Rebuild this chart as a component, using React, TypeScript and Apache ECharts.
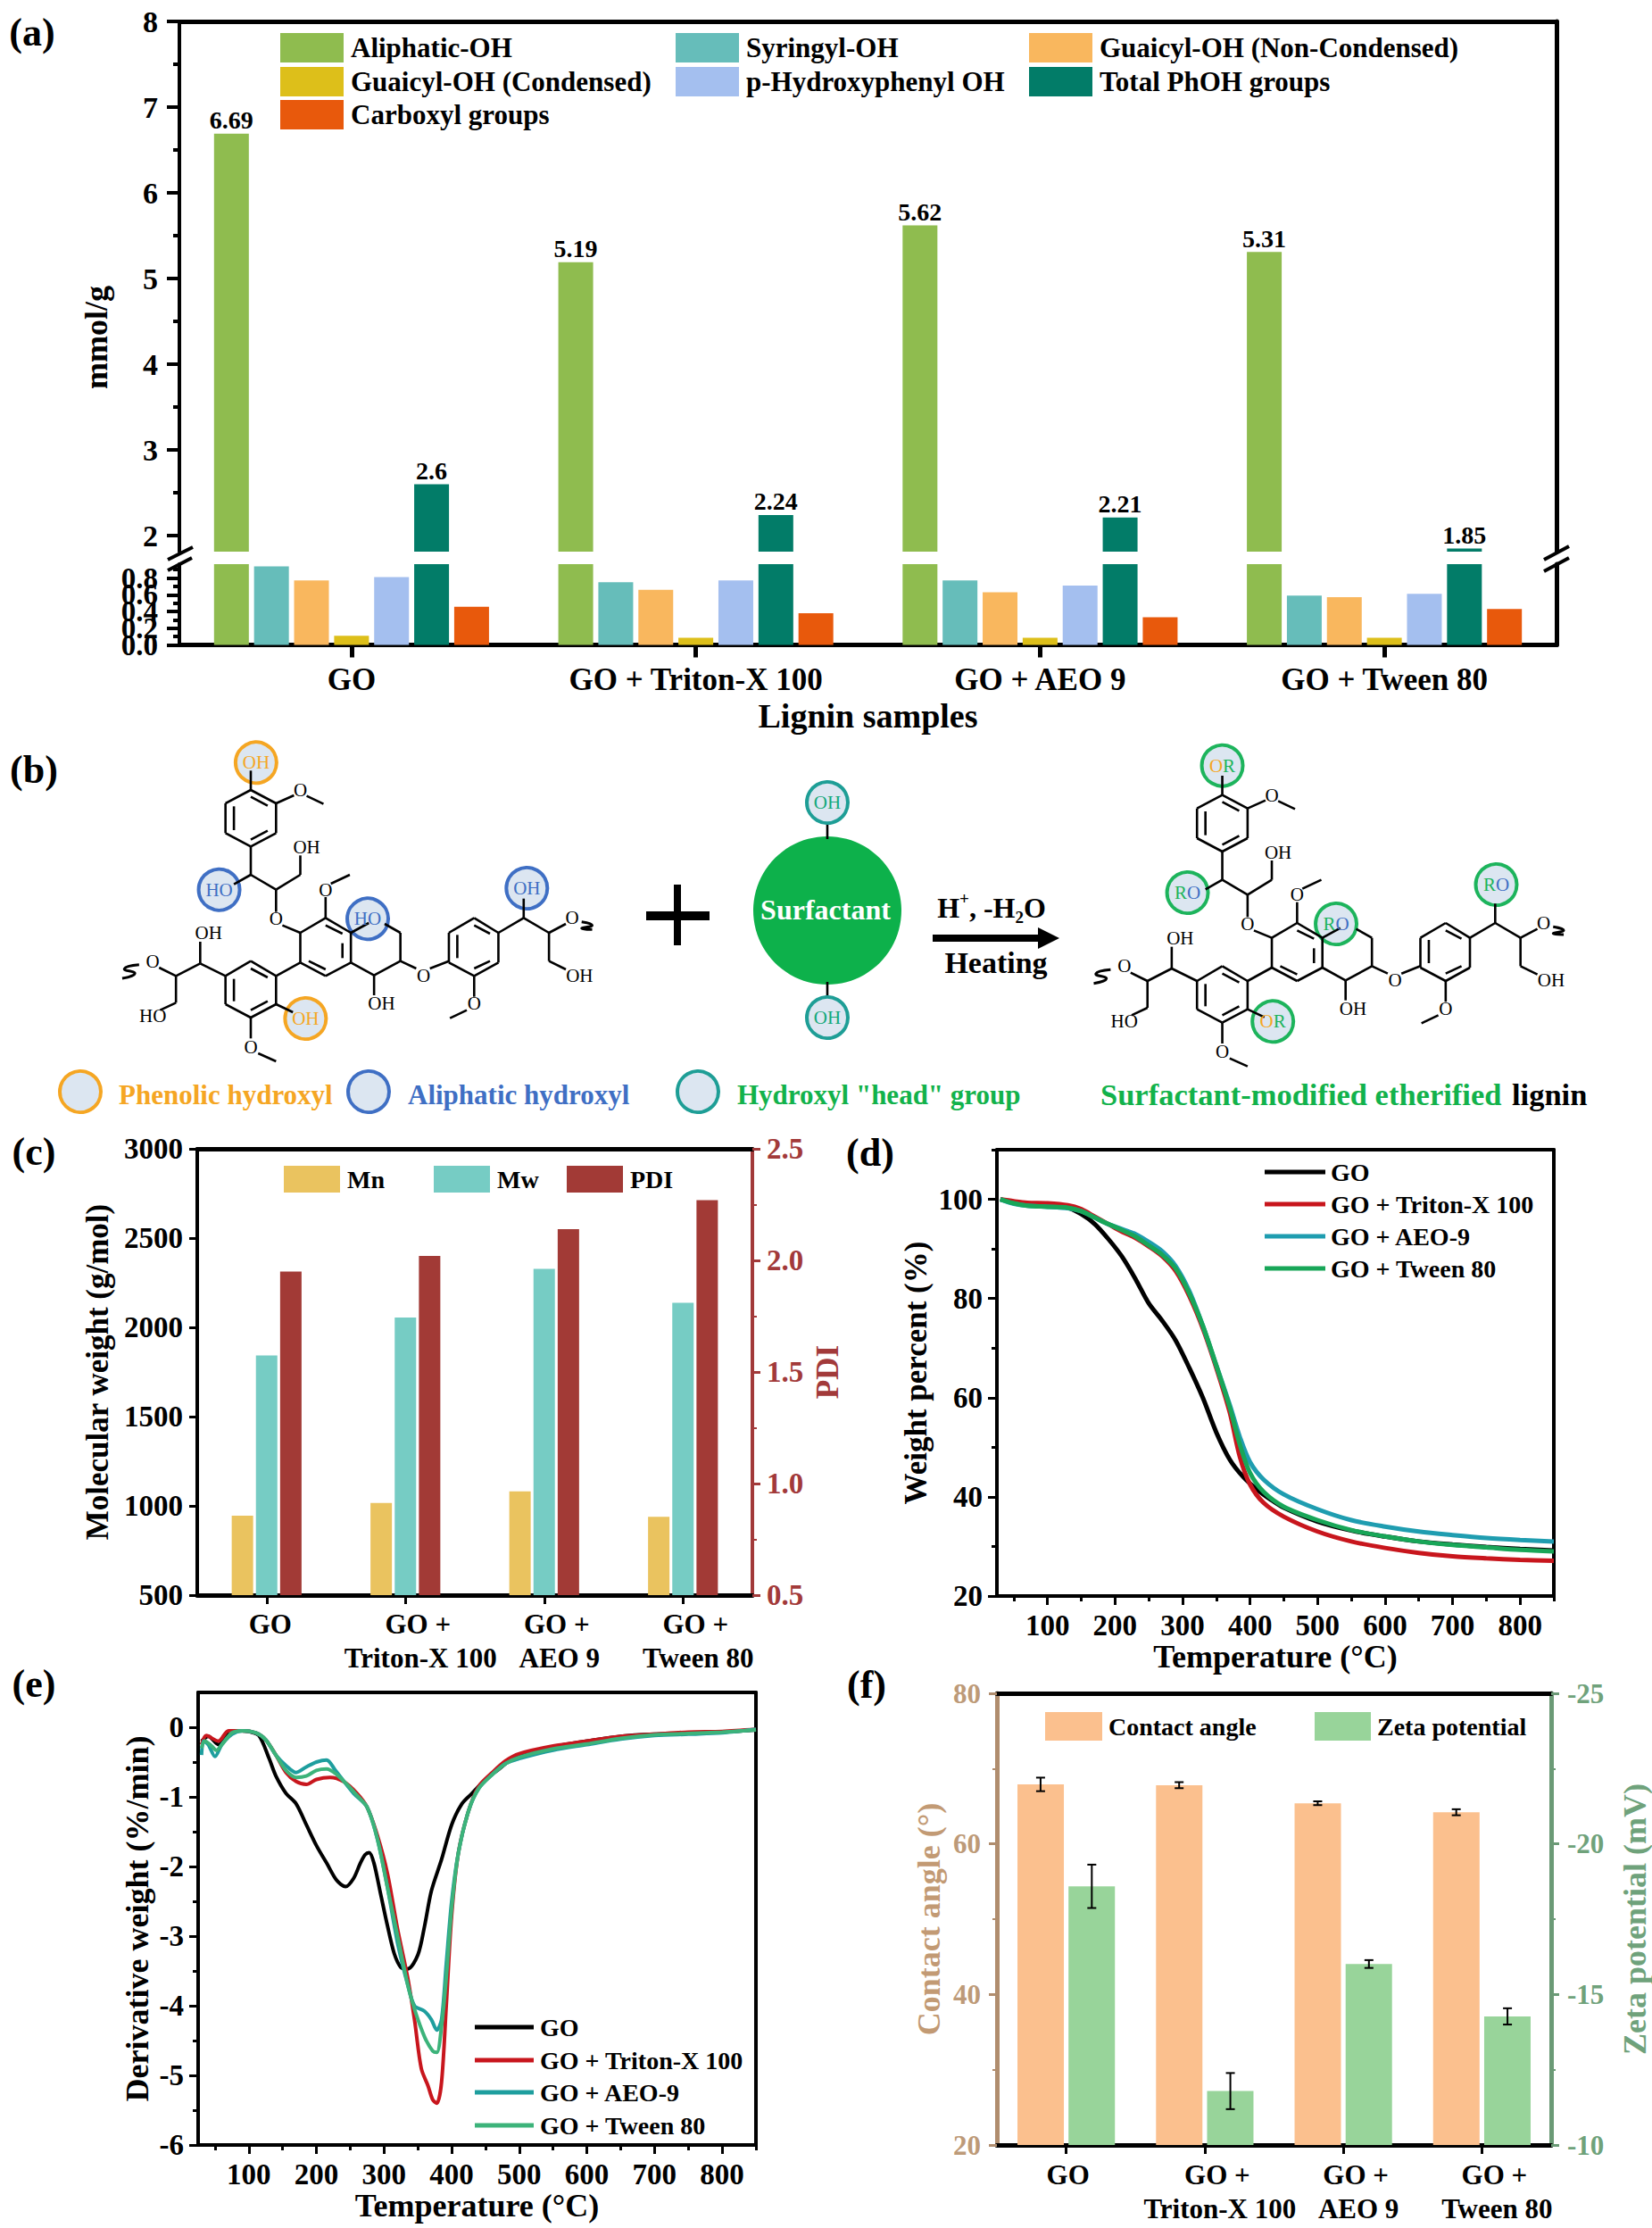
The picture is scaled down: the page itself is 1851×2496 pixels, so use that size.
import React, { useEffect, useRef } from 'react';
import * as echarts from 'echarts';

const FONT = '"Liberation Serif"';

// panel (a)
const ligninSamples = ['GO', 'GO + Triton-X 100', 'GO + AEO 9', 'GO + Tween 80'];
const aliphaticOH = [6.69, 5.19, 5.62, 5.31];
const syringylOH = [0.94, 0.75, 0.77, 0.59];
const guaicylNonCond = [0.77, 0.66, 0.63, 0.57];
const guaicylCond = [0.11, 0.085, 0.085, 0.085];
const hydroxyphenylOH = [0.81, 0.77, 0.71, 0.61];
const totalPhOH = [2.6, 2.24, 2.21, 1.85];
const carboxyl = [0.455, 0.38, 0.33, 0.43];

// panels (c) and (f)
const twoLineSamples = ['GO', 'GO +\nTriton-X 100', 'GO +\nAEO 9', 'GO +\nTween 80'];
const mnValues = [945, 1016, 1081, 939];
const mwValues = [1843, 2055, 2327, 2138];
const pdiValues = [1.95, 2.02, 2.14, 2.27];
const contactAngle = [67.9, 67.8, 65.4, 64.2];
const contactErr = [0.9, 0.4, 0.25, 0.4];
const zetaPotential = [-18.59, -11.79, -16.01, -14.27];
const zetaErr = [0.72, 0.6, 0.13, 0.27];

// panel (d), [temperature, weight %]
const tgaGO = [[30, 100], [50, 99.3], [70, 98.9], [100, 98.6], [130, 98.3], [150, 97], [170, 95], [190, 92], [210, 88.5], [230, 84], [250, 79], [270, 75.5], [290, 71.5], [310, 66], [330, 60], [350, 53], [370, 47.5], [390, 44], [410, 41.5], [430, 39.5], [450, 37.8], [500, 35], [550, 33.2], [600, 32], [650, 31], [700, 30.4], [750, 29.9], [800, 29.5], [850, 29.2]];
const tgaTriton = [[30, 100], [50, 99.6], [70, 99.3], [100, 99.2], [130, 98.8], [150, 98], [170, 96.5], [190, 95], [210, 93.5], [230, 92.2], [250, 90.5], [270, 88.5], [290, 85.5], [310, 80.5], [330, 74], [350, 66], [370, 57], [385, 48], [400, 42.5], [420, 38.8], [450, 36], [500, 33], [550, 31], [600, 29.7], [650, 28.7], [700, 28], [750, 27.6], [800, 27.3], [850, 27.1]];
const tgaAEO = [[30, 100], [50, 99.1], [70, 98.7], [100, 98.5], [130, 98.2], [150, 97.6], [170, 96.3], [190, 95], [210, 94], [230, 93], [250, 91.4], [270, 89.5], [290, 86.5], [310, 81.5], [330, 74.5], [350, 66.5], [370, 58.5], [385, 52], [400, 47], [420, 43.5], [450, 40.5], [500, 37.5], [550, 35.3], [600, 34], [650, 33], [700, 32.3], [750, 31.7], [800, 31.3], [850, 31]];
const tgaTween = [[30, 100], [50, 99.2], [70, 98.7], [100, 98.5], [130, 98.3], [150, 97.6], [170, 96.3], [190, 95], [210, 93.8], [230, 92.5], [250, 90.7], [270, 88.8], [290, 86], [310, 81], [330, 74.5], [350, 66.5], [370, 58], [385, 50.5], [400, 44.8], [420, 41], [450, 38], [500, 35.3], [550, 33.3], [600, 32], [650, 31], [700, 30.3], [750, 29.8], [800, 29.3], [850, 29]];

// panel (e), [temperature, derivative weight]
const dtgGO = [[30, -0.2], [40, -0.13], [55, -0.25], [70, -0.07], [85, -0.05], [100, -0.06], [115, -0.12], [130, -0.45], [140, -0.7], [155, -0.95], [170, -1.1], [185, -1.4], [200, -1.7], [215, -1.95], [230, -2.2], [243, -2.29], [255, -2.17], [265, -1.95], [272, -1.83], [278, -1.8], [285, -1.95], [295, -2.4], [305, -2.85], [315, -3.25], [325, -3.45], [335, -3.47], [350, -3.27], [360, -2.85], [370, -2.35], [385, -1.9], [400, -1.4], [415, -1.1], [430, -0.95], [450, -0.75], [470, -0.6], [490, -0.45], [520, -0.35], [550, -0.28], [600, -0.2], [650, -0.13], [700, -0.1], [750, -0.09], [800, -0.07], [850, -0.04]];
const dtgTriton = [[30, -0.25], [37, -0.12], [55, -0.2], [70, -0.05], [90, -0.05], [110, -0.08], [125, -0.18], [140, -0.4], [155, -0.65], [170, -0.78], [185, -0.82], [200, -0.75], [220, -0.72], [240, -0.78], [260, -0.95], [275, -1.15], [290, -1.55], [305, -2.1], [320, -2.9], [335, -3.6], [345, -4.2], [355, -4.9], [365, -5.15], [372, -5.35], [378, -5.4], [385, -5.1], [392, -4], [400, -2.7], [410, -1.8], [425, -1.2], [440, -0.85], [460, -0.65], [480, -0.48], [500, -0.38], [550, -0.27], [600, -0.2], [650, -0.13], [700, -0.1], [750, -0.07], [800, -0.06], [850, -0.03]];
const dtgAEO = [[30, -0.4], [33, -0.2], [40, -0.25], [50, -0.42], [60, -0.25], [75, -0.1], [90, -0.05], [110, -0.08], [125, -0.18], [140, -0.4], [155, -0.55], [170, -0.65], [185, -0.57], [200, -0.5], [215, -0.47], [228, -0.62], [240, -0.77], [255, -0.95], [275, -1.15], [290, -1.6], [305, -2.3], [320, -3.1], [335, -3.7], [345, -4], [360, -4.08], [370, -4.2], [378, -4.35], [385, -4.2], [392, -3.4], [400, -2.5], [410, -1.8], [425, -1.2], [440, -0.88], [460, -0.68], [480, -0.52], [500, -0.45], [550, -0.33], [600, -0.25], [650, -0.17], [700, -0.12], [750, -0.1], [800, -0.08], [850, -0.03]];
const dtgTween = [[30, -0.3], [35, -0.2], [45, -0.27], [52, -0.33], [60, -0.25], [75, -0.08], [90, -0.05], [110, -0.08], [125, -0.18], [140, -0.4], [155, -0.62], [170, -0.72], [185, -0.7], [200, -0.62], [215, -0.6], [230, -0.68], [245, -0.82], [260, -0.98], [275, -1.15], [290, -1.6], [305, -2.3], [320, -3], [335, -3.7], [345, -4.05], [360, -4.45], [372, -4.65], [378, -4.67], [385, -4.3], [392, -3.6], [400, -2.6], [410, -1.8], [425, -1.2], [440, -0.88], [460, -0.68], [480, -0.52], [500, -0.43], [550, -0.31], [600, -0.24], [650, -0.16], [700, -0.11], [750, -0.09], [800, -0.07], [850, -0.04]];

const tempTicks = [100, 200, 300, 400, 500, 600, 700, 800];
const tempMinor = [50, 150, 250, 350, 450, 550, 650, 750, 850];

// panel (b) drawing, in crop units (converted by px / py below)
const bonds = [
  [238, 160, 238, 225], [238, 225, 262, 270], [262, 270, 262, 370], [262, 370, 238, 415], [238, 415, 214, 370], [214, 370, 214, 270], [214, 270, 238, 225],
  [222, 280, 222, 360], [254, 362, 238, 392], [238, 248, 254, 278],
  [262, 270, 279, 243], [291, 245, 307, 272],
  [238, 415, 238, 510], [238, 510, 262, 560], [238, 510, 222, 542], [262, 560, 285, 510], [285, 510, 285, 445], [262, 560, 262, 635],
  [268, 680, 285, 705], [285, 705, 309, 655], [309, 655, 333, 705], [333, 705, 333, 805], [333, 805, 309, 850], [309, 850, 285, 805], [285, 805, 285, 705],
  [309, 680, 325, 708], [325, 740, 325, 790], [293, 800, 309, 828],
  [309, 655, 309, 585], [314, 540, 332, 510],
  [333, 705, 350, 672], [365, 675, 380, 705], [380, 705, 380, 800], [380, 800, 355, 848], [355, 848, 333, 805],
  [355, 848, 355, 915], [380, 800, 395, 825], [408, 825, 426, 800],
  [426, 805, 426, 705], [426, 705, 450, 655], [450, 655, 473, 705], [473, 705, 473, 805], [473, 805, 450, 850], [450, 850, 426, 805],
  [434, 712, 434, 790], [450, 680, 465, 708], [450, 825, 465, 800],
  [450, 850, 450, 920], [443, 965, 427, 992],
  [473, 705, 497, 655], [497, 655, 497, 590], [497, 655, 521, 705], [521, 705, 537, 675], [521, 705, 521, 800], [521, 800, 537, 828],
  [238, 800, 262, 850], [262, 850, 262, 945], [262, 945, 238, 990], [238, 990, 214, 945], [214, 945, 214, 850], [214, 850, 238, 800],
  [222, 860, 222, 935], [254, 935, 238, 965], [238, 825, 254, 855],
  [262, 850, 285, 805], [214, 850, 190, 808], [190, 808, 190, 735], [190, 808, 167, 850], [167, 850, 151, 822], [167, 850, 167, 940], [167, 940, 152, 965],
  [262, 945, 278, 972], [238, 990, 238, 1060], [245, 1110, 262, 1137],
];
const squiggleLeft = [[116, 858], [128, 842], [118, 826], [132, 812]];
const squiggleRight = [[552, 668], [562, 680], [552, 690], [562, 694]];
const atomLabels: [string, number, number][] = [
  ['OH', 291, 417], ['O', 285, 225], ['O', 262, 657], ['O', 309, 560], ['OH', 198, 705], ['O', 145, 800], ['HO', 145, 985],
  ['O', 238, 1088], ['OH', 362, 943], ['O', 402, 848], ['O', 450, 942], ['O', 543, 655], ['OH', 550, 848],
];
const leftGroups: [string, string, number, number][] = [
  ['OH', '#F5A623', 243, 133], ['HO', '#3F6FC4', 208, 560], ['HO', '#3F6FC4', 349, 658], ['OH', '#3F6FC4', 500, 555], ['OH', '#F5A623', 290, 993],
];
const rightGroups: [string, number, number][] = [
  ['{o|O}{g|R}', 1160, 143], ['{g|R}{b|O}', 1127, 570], ['{g|R}{b|O}', 1268, 675], ['{g|R}{b|O}', 1420, 543], ['{o|O}{g|R}', 1208, 1003],
];

const px = (x: number) => x / 0.847;
const py = (y: number) => 810 + y / 3;

const text = (t: string, x: number, y: number, size: number, color = '#000', bold = true, align = 'center') => ({
  type: 'text',
  style: { text: t, x, y, fill: color, fontFamily: FONT, fontSize: size, fontWeight: bold ? 'bold' : 'normal', align, verticalAlign: 'middle' },
});

const line = (x1: number, y1: number, x2: number, y2: number, width = 2.6, color = '#000') => ({
  type: 'line',
  shape: { x1, y1, x2, y2 },
  style: { stroke: color, lineWidth: width },
});

const blob = (x: number, y: number, r: number, stroke: string) => ({
  type: 'circle',
  shape: { cx: x, cy: y, r },
  style: { fill: '#DCE6F1', stroke, lineWidth: 4 },
});

function molecule(dx: number, dy: number) {
  const out: any[] = [];
  bonds.forEach((b) => out.push(line(px(b[0] + dx), py(b[1] + dy), px(b[2] + dx), py(b[3] + dy))));
  [squiggleLeft, squiggleRight].forEach((pts) =>
    out.push({
      type: 'polyline',
      shape: { points: pts.map((p) => [px(p[0] + dx), py(p[1] + dy)]), smooth: 0.6 },
      style: { stroke: '#000', lineWidth: 3, fill: 'none' },
    }),
  );
  atomLabels.forEach((a) => out.push(text(a[0], px(a[1] + dx), py(a[2] + dy), 21, '#000', false)));
  return out;
}

function panelB() {
  const out: any[] = [];
  leftGroups.forEach((g) => out.push(blob(px(g[2]), py(g[3]), 23, g[1])));
  rightGroups.forEach((g) => out.push(blob(px(g[1]), py(g[2]), 23, '#1DB45C')));
  out.push(...molecule(0, 0), ...molecule(922, 17));
  leftGroups.forEach((g) => out.push(text(g[0], px(g[2]), py(g[3]), 21, g[1], false)));
  rightGroups.forEach((g) =>
    out.push({
      type: 'text',
      style: {
        text: g[0], x: px(g[1]), y: py(g[2]), align: 'center', verticalAlign: 'middle',
        rich: {
          o: { fill: '#F5A623', fontFamily: FONT, fontSize: 21 },
          g: { fill: '#1DB45C', fontFamily: FONT, fontSize: 21 },
          b: { fill: '#3F6FC4', fontFamily: FONT, fontSize: 21 },
        },
      },
    }),
  );
  // surfactant
  out.push({ type: 'circle', shape: { cx: 927, cy: 1020, r: 83 }, style: { fill: '#0DB14B' } });
  out.push(line(927, 923, 927, 940), line(927, 1100, 927, 1117));
  out.push(blob(927, 899, 23, '#1E9E96'), blob(927, 1140, 23, '#1E9E96'));
  out.push(text('OH', 927, 899, 21, '#12A87A', false), text('OH', 927, 1140, 21, '#12A87A', false));
  out.push(text('Surfactant', 925, 1019, 32, '#fff'));
  // plus sign and reaction arrow
  out.push({ type: 'rect', shape: { x: 724, y: 1021, width: 71, height: 10 }, style: { fill: '#000' } });
  out.push({ type: 'rect', shape: { x: 755, y: 991, width: 8, height: 68 }, style: { fill: '#000' } });
  out.push({
    type: 'text',
    style: {
      text: '{n|H}{s|+}{n|, -H}{u|2}{n|O}', x: 1111, y: 1017, align: 'center', verticalAlign: 'middle',
      rich: {
        n: { fontFamily: FONT, fontWeight: 'bold', fontSize: 32, lineHeight: 40, fill: '#000' },
        s: { fontFamily: FONT, fontWeight: 'bold', fontSize: 19, lineHeight: 40, verticalAlign: 'top', fill: '#000' },
        u: { fontFamily: FONT, fontWeight: 'bold', fontSize: 19, lineHeight: 40, verticalAlign: 'bottom', fill: '#000' },
      },
    },
  });
  out.push({ type: 'rect', shape: { x: 1045, y: 1047, width: 120, height: 8 }, style: { fill: '#000' } });
  out.push({ type: 'polygon', shape: { points: [[1163, 1039], [1187, 1051], [1163, 1063]] }, style: { fill: '#000' } });
  out.push(text('Heating', 1116, 1078, 34));
  // key under the drawing
  out.push(blob(90, 1223, 23, '#F5A623'), blob(413, 1223, 23, '#3F6FC4'), blob(782, 1223, 23, '#1E9E96'));
  out.push(text('Phenolic hydroxyl', 133, 1226, 31, '#F5A623', true, 'left'));
  out.push(text('Aliphatic hydroxyl', 457, 1226, 31, '#3F6FC4', true, 'left'));
  out.push(text('Hydroxyl "head" group', 826, 1226, 31, '#12B24B', true, 'left'));
  out.push(text('Surfactant-modified etherified', 1233, 1226, 34.5, '#12B24B', true, 'left'));
  out.push(text('lignin', 1694, 1226, 34.5, '#000', true, 'left'));
  return out;
}

const panelLabels = [
  text('(a)', 36, 36, 44), text('(b)', 38, 862, 44), text('(c)', 38, 1290, 44),
  text('(d)', 975, 1291, 44), text('(e)', 38, 1886, 44), text('(f)', 971, 1887, 44),
];

const breakMarks = [
  line(188, 627, 216, 613, 4), line(188, 639, 215, 625, 4),
  line(1730, 627, 1758, 612, 4), line(1730, 640, 1758, 625, 4),
];

const font = (size: number, color = '#000') => ({ fontFamily: FONT, fontWeight: 'bold', fontSize: size, color });

// one legend per entry, placed by hand like the figure's own key
function swatch(name: string, left: number, top: number, w: number, h: number, size: number, color?: string, gap = 3) {
  return {
    left, top, itemWidth: w, itemHeight: h, selectedMode: false, orient: 'horizontal', padding: 0,
    data: [{ name, icon: 'rect', itemStyle: color ? { color } : undefined }],
    textStyle: { ...font(size), padding: [0, 0, 0, gap] },
  };
}

const shiftedLabel = (size: number, margin: number, shift: number, goShift: number) => ({
  interval: 0,
  margin,
  formatter: (v: string) => {
    if (v === 'GO') return `{g|${v}}`;
    const [a, b] = v.split('\n');
    return `{s|${a}}\n{t|${b}}`;
  },
  rich: {
    g: { ...font(size), lineHeight: 38, padding: [0, 0, 0, goShift] },
    s: { ...font(size), lineHeight: 38, padding: [0, 0, 0, shift] },
    t: { ...font(size), lineHeight: 38, padding: [0, 0, 0, shift + 6] },
  },
});

function buildOption() {
  const grid = [
    { left: 201, top: 24, width: 1543, height: 594 }, // a, upper part
    { left: 201, top: 632, width: 1543, height: 90.5 }, // a, lower part
    { left: 221, top: 1287, width: 622, height: 500 }, // c
    { left: 1117, top: 1288, width: 624, height: 500 }, // d
    { left: 222, top: 1896, width: 625, height: 507 }, // e
    { left: 1117, top: 1897, width: 621, height: 506 }, // f
  ];
  const black = (w: number) => ({ show: true, onZero: false, lineStyle: { color: '#000', width: w } });
  const tick = (len: number, w: number, color = '#000') => ({ show: true, length: len, lineStyle: { color, width: w } });
  const off = { axisTick: { show: false }, axisLabel: { show: false }, splitLine: { show: false } };
  const noLine = { show: false, onZero: false };

  const xAxis: any[] = [
    // a
    { gridIndex: 1, type: 'category', data: ligninSamples, position: 'bottom', axisLine: black(5), axisTick: { ...tick(14, 5), alignWithLabel: true }, axisLabel: { ...font(35), interval: 0, margin: 21 }, name: 'Lignin samples', nameLocation: 'middle', nameGap: 60, nameTextStyle: font(38) },
    { gridIndex: 0, type: 'category', data: ligninSamples, position: 'top', axisLine: black(5), ...off },
    // c
    { gridIndex: 2, type: 'category', data: twoLineSamples, position: 'bottom', axisLine: black(5), axisTick: { ...tick(10, 3), alignWithLabel: true }, axisLabel: shiftedLabel(31, 13, 28, 8) },
    { gridIndex: 2, type: 'category', data: twoLineSamples, position: 'top', axisLine: black(5), ...off },
    // d
    { gridIndex: 3, type: 'value', min: 25, max: 850, position: 'bottom', axisLine: black(4), axisTick: { ...tick(10, 3), customValues: tempTicks }, axisLabel: { ...font(33), margin: 16, customValues: tempTicks }, splitLine: { show: false }, name: 'Temperature (°C)', nameLocation: 'middle', nameGap: 49, nameTextStyle: font(36) },
    { gridIndex: 3, type: 'value', min: 25, max: 850, position: 'top', axisLine: black(4), ...off },
    { gridIndex: 3, type: 'value', min: 25, max: 850, position: 'bottom', axisLine: noLine, axisTick: { ...tick(6, 3), customValues: tempMinor }, axisLabel: { show: false }, splitLine: { show: false } },
    // e
    { gridIndex: 4, type: 'value', min: 25, max: 850, position: 'bottom', axisLine: black(4), axisTick: { ...tick(10, 3), customValues: tempTicks }, axisLabel: { ...font(33), margin: 16, customValues: tempTicks }, splitLine: { show: false }, name: 'Temperature (°C)', nameLocation: 'middle', nameGap: 50, nameTextStyle: font(36) },
    { gridIndex: 4, type: 'value', min: 25, max: 850, position: 'top', axisLine: black(4), ...off },
    { gridIndex: 4, type: 'value', min: 25, max: 850, position: 'bottom', axisLine: noLine, axisTick: { ...tick(6, 3), customValues: tempMinor }, axisLabel: { show: false }, splitLine: { show: false } },
    // f
    { gridIndex: 5, type: 'category', data: twoLineSamples, position: 'bottom', axisLine: black(5), axisTick: { ...tick(10, 3), alignWithLabel: true }, axisLabel: shiftedLabel(31, 14, 28, 4) },
    { gridIndex: 5, type: 'category', data: twoLineSamples, position: 'top', axisLine: black(5), ...off },
  ];

  const yAxis: any[] = [
    // 0-2 a, upper: main, minor ticks, right edge
    { gridIndex: 0, type: 'value', min: 1.8125, max: 8, position: 'left', axisLine: black(4), axisTick: { ...tick(14, 4), customValues: [2, 3, 4, 5, 6, 7, 8] }, axisLabel: { ...font(34), margin: 24, customValues: [2, 3, 4, 5, 6, 7, 8] }, splitLine: { show: false } },
    { gridIndex: 0, type: 'value', min: 1.8125, max: 8, position: 'left', axisLine: noLine, axisTick: { ...tick(7, 4), customValues: [2.5, 3.5, 4.5, 5.5, 6.5, 7.5] }, axisLabel: { show: false }, splitLine: { show: false } },
    { gridIndex: 0, type: 'value', min: 1.8125, max: 8, position: 'right', axisLine: black(5), ...off },
    // 3-4 a, lower: main, right edge
    { gridIndex: 1, type: 'value', min: 0, max: 0.966, position: 'left', axisLine: black(4), axisTick: { ...tick(14, 4), customValues: [0, 0.2, 0.4, 0.6, 0.8] }, axisLabel: { ...font(33), margin: 24, showMinLabel: true, showMaxLabel: true, hideOverlap: false, customValues: [0, 0.4, 0.8], formatter: (v: number) => v.toFixed(1) }, splitLine: { show: false } },
    { gridIndex: 1, type: 'value', min: 0, max: 0.966, position: 'right', axisLine: black(5), ...off },
    // 5-6 c
    { gridIndex: 2, type: 'value', min: 500, max: 3000, interval: 500, position: 'left', axisLine: black(4), axisTick: tick(9, 3), axisLabel: { ...font(33), margin: 16, formatter: (v: number) => String(v) }, splitLine: { show: false }, name: 'Molecular weight (g/mol)', nameLocation: 'middle', nameGap: 94, nameTextStyle: font(35) },
    { gridIndex: 2, type: 'value', min: 0.5, max: 2.5, interval: 0.5, position: 'right', axisLine: { show: true, onZero: false, lineStyle: { color: '#A23A3A', width: 4 } }, axisTick: tick(9, 3, '#A23A3A'), minorTick: { show: true, splitNumber: 2, length: 5, lineStyle: { color: '#A23A3A', width: 2 } }, axisLabel: { ...font(33, '#A23A3A'), margin: 16, formatter: (v: number) => v.toFixed(1) }, splitLine: { show: false }, name: 'PDI', nameLocation: 'middle', nameRotate: 90, nameGap: 67, nameTextStyle: font(35, '#A23A3A') },
    // 7-9 d
    { gridIndex: 3, type: 'value', min: 20, max: 110, position: 'left', axisLine: black(4), axisTick: { ...tick(10, 3), customValues: [20, 40, 60, 80, 100] }, axisLabel: { ...font(33), margin: 16, customValues: [20, 40, 60, 80, 100] }, splitLine: { show: false }, name: 'Weight percent (%)', nameLocation: 'middle', nameGap: 73, nameTextStyle: font(35) },
    { gridIndex: 3, type: 'value', min: 20, max: 110, position: 'left', axisLine: noLine, axisTick: { ...tick(6, 3), customValues: [30, 50, 70, 90, 110] }, axisLabel: { show: false }, splitLine: { show: false } },
    { gridIndex: 3, type: 'value', min: 20, max: 110, position: 'right', axisLine: black(4), ...off },
    // 10-12 e
    { gridIndex: 4, type: 'value', min: -6, max: 0.5, position: 'left', axisLine: black(4), axisTick: { ...tick(10, 3), customValues: [-6, -5, -4, -3, -2, -1, 0] }, axisLabel: { ...font(33), margin: 16, customValues: [-6, -5, -4, -3, -2, -1, 0] }, splitLine: { show: false }, name: 'Derivative weight (%/min)', nameLocation: 'middle', nameGap: 50, nameTextStyle: font(36) },
    { gridIndex: 4, type: 'value', min: -6, max: 0.5, position: 'left', axisLine: noLine, axisTick: { ...tick(6, 3), customValues: [-5.5, -4.5, -3.5, -2.5, -1.5, -0.5] }, axisLabel: { show: false }, splitLine: { show: false } },
    { gridIndex: 4, type: 'value', min: -6, max: 0.5, position: 'right', axisLine: black(4), ...off },
    // 13-14 f
    { gridIndex: 5, type: 'value', min: 20, max: 80, interval: 20, position: 'left', axisLine: { show: true, onZero: false, lineStyle: { color: '#B08D6E', width: 5 } }, axisTick: tick(9, 3, '#B08D6E'), minorTick: { show: true, splitNumber: 2, length: 5, lineStyle: { color: '#B08D6E', width: 2 } }, axisLabel: { ...font(31, '#BD9A78'), margin: 18 }, splitLine: { show: false }, name: 'Contact angle (°)', nameLocation: 'middle', nameGap: 58, nameTextStyle: font(36, '#C29A74') },
    { gridIndex: 5, type: 'value', min: -25, max: -10, interval: 5, inverse: true, position: 'right', axisLine: { show: true, onZero: false, lineStyle: { color: '#6B9A76', width: 5 } }, axisTick: tick(9, 3, '#6B9A76'), minorTick: { show: true, splitNumber: 2, length: 5, lineStyle: { color: '#6B9A76', width: 2 } }, axisLabel: { ...font(31, '#6FA27B'), margin: 18 }, splitLine: { show: false }, name: 'Zeta potential (mV)', nameLocation: 'middle', nameRotate: 90, nameGap: 76, nameTextStyle: font(36, '#6FA27B') },
    // 15 a, lower minor ticks; 16 the labels that would otherwise be dropped as overlapping
    { gridIndex: 1, type: 'value', min: 0, max: 0.966, position: 'left', axisLine: noLine, axisTick: { ...tick(7, 4), customValues: [0.1, 0.3, 0.5, 0.7, 0.9] }, axisLabel: { show: false }, splitLine: { show: false } },
    { gridIndex: 1, type: 'value', min: 0, max: 0.966, position: 'left', axisLine: noLine, axisTick: { show: false }, axisLabel: { ...font(33), margin: 24, showMinLabel: true, showMaxLabel: true, customValues: [0.2, 0.6], formatter: (v: number) => v.toFixed(1) }, splitLine: { show: false } },
  ];

  const groupsA: [string, number[], string][] = [
    ['Aliphatic-OH', aliphaticOH, '#8FBC4F'],
    ['Syringyl-OH', syringylOH, '#66BDBA'],
    ['Guaicyl-OH (Non-Condensed)', guaicylNonCond, '#F9B75E'],
    ['Guaicyl-OH (Condensed)', guaicylCond, '#DDBF1A'],
    ['p-Hydroxyphenyl OH', hydroxyphenylOH, '#A4BFEF'],
    ['Total PhOH groups', totalPhOH, '#027C68'],
    ['Carboxyl groups', carboxyl, '#E8590C'],
  ];
  const series: any[] = [];
  // the broken axis: every series is drawn in both parts and clipped by the grid
  groupsA.forEach(([name, data, color]) => {
    const labelled = name === 'Aliphatic-OH' || name === 'Total PhOH groups';
    series.push({
      name, type: 'bar', data, xAxisIndex: 1, yAxisIndex: 0, barWidth: 39, barGap: '15%', itemStyle: { color },
      label: labelled ? { show: true, position: 'top', distance: 1, ...font(28) } : { show: false },
    });
    series.push({ name, type: 'bar', data, xAxisIndex: 0, yAxisIndex: 3, barWidth: 39, barGap: '15%', itemStyle: { color } });
  });

  const barsC: [string, number[], string, number][] = [
    ['Mn', mnValues, '#EAC35F', 5],
    ['Mw', mwValues, '#76CCC4', 5],
    ['PDI', pdiValues, '#A23A36', 6],
  ];
  barsC.forEach(([name, data, color, y]) =>
    series.push({ name, type: 'bar', data, xAxisIndex: 2, yAxisIndex: y, barWidth: 24, barGap: '13%', itemStyle: { color } }),
  );

  const tga: [string, number[][], string][] = [
    ['GO', tgaGO, '#000'],
    ['GO + Triton-X 100', tgaTriton, '#C8161D'],
    ['GO + AEO-9', tgaAEO, '#1F9DB0'],
    ['GO + Tween 80', tgaTween, '#18A658'],
  ];
  tga.forEach(([name, data, color]) =>
    series.push({ name, type: 'line', data, xAxisIndex: 4, yAxisIndex: 7, showSymbol: false, smooth: 0.3, lineStyle: { color, width: 5 }, itemStyle: { color } }),
  );
  const dtg: [string, number[][], string][] = [
    ['GO', dtgGO, '#000'],
    ['GO + Triton-X 100', dtgTriton, '#C8161D'],
    ['GO + AEO-9', dtgAEO, '#1E9E9E'],
    ['GO + Tween 80', dtgTween, '#3CB37A'],
  ];
  dtg.forEach(([name, data, color]) =>
    series.push({ name, type: 'line', data, xAxisIndex: 7, yAxisIndex: 10, showSymbol: false, smooth: 0.3, lineStyle: { color, width: 4 }, itemStyle: { color } }),
  );

  series.push({ name: 'Contact angle', type: 'bar', data: contactAngle, xAxisIndex: 10, yAxisIndex: 13, barWidth: 52, barGap: '10%', itemStyle: { color: '#FBC08E' } });
  series.push({ name: 'Zeta potential', type: 'bar', data: zetaPotential, xAxisIndex: 10, yAxisIndex: 14, barWidth: 52, barGap: '10%', itemStyle: { color: '#98D49A' } });

  const errorBars = (means: number[], errs: number[], yAxisIndex: number, offset: number) => ({
    type: 'custom',
    silent: true,
    xAxisIndex: 10,
    yAxisIndex,
    data: means.map((m, i) => [i, m - errs[i], m + errs[i]]),
    encode: { x: 0, y: [1, 2] },
    z: 5,
    renderItem: (_: any, api: any) => {
      const lo = api.coord([api.value(0), api.value(1)]);
      const hi = api.coord([api.value(0), api.value(2)]);
      const x = lo[0] + offset;
      const st = { stroke: '#000', lineWidth: 2 };
      return {
        type: 'group',
        children: [
          { type: 'line', shape: { x1: x, y1: lo[1], x2: x, y2: hi[1] }, style: st },
          { type: 'line', shape: { x1: x - 5, y1: lo[1], x2: x + 5, y2: lo[1] }, style: st },
          { type: 'line', shape: { x1: x - 5, y1: hi[1], x2: x + 5, y2: hi[1] }, style: st },
        ],
      };
    },
  });
  series.push(errorBars(contactAngle, contactErr, 13, -28.7));
  series.push(errorBars(zetaPotential, zetaErr, 14, 28.7));

  const legend = [
    swatch('Aliphatic-OH', 314, 37, 71, 33, 31),
    swatch('Syringyl-OH', 757, 37, 71, 33, 31),
    swatch('Guaicyl-OH (Non-Condensed)', 1153, 37, 71, 33, 31),
    swatch('Guaicyl-OH (Condensed)', 314, 75, 71, 33, 31),
    swatch('p-Hydroxyphenyl OH', 757, 75, 71, 33, 31),
    swatch('Total PhOH groups', 1153, 75, 71, 33, 31),
    swatch('Carboxyl groups', 314, 112, 71, 33, 31),
    swatch('Mn', 318, 1306, 63, 30, 28),
    swatch('Mw', 486, 1306, 63, 30, 28),
    swatch('PDI', 635, 1306, 63, 30, 28),
    swatch('GO', 1417, 1299, 68, 5, 28, '#000', 1),
    swatch('GO + Triton-X 100', 1417, 1335, 68, 5, 28, '#C8161D', 1),
    swatch('GO + AEO-9', 1417, 1371, 68, 5, 28, '#1F9DB0', 1),
    swatch('GO + Tween 80', 1417, 1407, 68, 5, 28, '#18A658', 1),
    swatch('GO', 532, 2257, 66, 5, 28, '#000', 2),
    swatch('GO + Triton-X 100', 532, 2294, 66, 5, 28, '#C8161D', 2),
    swatch('GO + AEO-9', 532, 2330, 66, 5, 28, '#1E9E9E', 2),
    swatch('GO + Tween 80', 532, 2367, 66, 5, 28, '#3CB37A', 2),
    swatch('Contact angle', 1171, 1918, 64, 32, 28, undefined, 2),
    swatch('Zeta potential', 1473, 1918, 63, 32, 28, undefined, 2),
  ];

  return {
    animation: false,
    backgroundColor: '#fff',
    grid,
    xAxis,
    yAxis,
    legend,
    series,
    graphic: [
      ...panelLabels,
      ...panelB(),
      ...breakMarks,
      { ...text('mmol/g', 108, 378, 36), rotation: Math.PI / 2, x: 0, y: 0, originX: 108, originY: 378 },
    ],
  };
}

export default function App() {
  const ref = useRef<HTMLDivElement>(null);
  useEffect(() => {
    document.body.style.margin = '0';
    const chart = echarts.init(ref.current!, undefined, { renderer: 'svg' });
    chart.setOption(buildOption() as any);
    return () => chart.dispose();
  }, []);
  return <div ref={ref} style={{ position: 'absolute', left: 0, top: 0, width: 1851, height: 2496 }} />;
}
